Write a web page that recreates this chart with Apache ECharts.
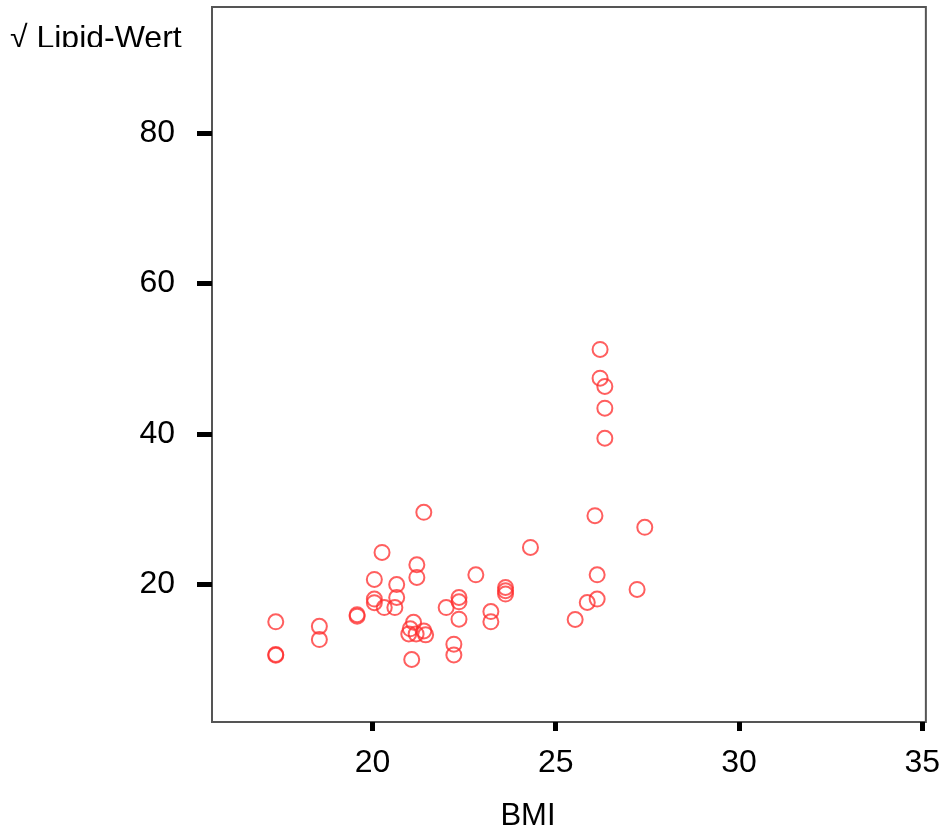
<!DOCTYPE html>
<html>
<head>
<meta charset="utf-8">
<script src="https://cdn.jsdelivr.net/npm/echarts@6/dist/echarts.min.js"></script>
<style>html,body{margin:0;padding:0;background:#fff}#c{width:943px;height:831px}</style>
</head>
<body>
<div id="c"></div>
<script>
// BMI values (x)
const bmi = [
  17.36, 17.36, 17.36, 18.55, 18.55, 19.58, 19.58, 20.05, 20.05, 20.05,
  20.26, 20.32, 20.61, 20.66, 20.66, 21.21, 21.21, 21.40, 21.12, 21.03,
  20.99, 21.19, 21.40, 21.45, 21.07, 22.01, 22.22, 22.22, 22.36, 22.36,
  22.36, 22.82, 23.23, 23.23, 23.63, 23.63, 23.63, 24.31, 25.53, 25.86,
  26.13, 26.13, 26.07, 27.43, 27.22, 26.21, 26.21, 26.34, 26.34, 26.34
];
// sqrt lipid values (y)
const lipid = [
  15.05, 10.72, 10.60, 14.45, 12.70, 16.00, 15.80, 18.07, 17.60, 20.68,
  24.27, 16.95, 16.95, 20.00, 18.28, 22.63, 20.95, 29.59, 15.00, 14.12,
  13.45, 13.45, 13.85, 13.32, 10.05, 16.95, 12.09, 10.66, 18.28, 17.71,
  15.41, 21.30, 16.42, 15.05, 19.61, 19.18, 18.74, 24.93, 15.36, 17.62,
  18.07, 21.30, 29.15, 27.60, 19.35, 51.23, 47.41, 46.31, 43.42, 39.43
];
const xTicks = [20, 25, 30, 35];
const yTicks = [20, 40, 60, 80];
const xName = 'BMI';
const yName = '√ Lipid-Wert';

const points = bmi.map((v, i) => [v, lipid[i]]);
const font = 'Liberation Sans, Arial, sans-serif';

const chart = echarts.init(document.getElementById('c'));
chart.setOption({
  animation: false,
  backgroundColor: '#fff',
  grid: { left: 212, right: 14, top: 7, bottom: 109, show: true, borderColor: '#555', borderWidth: 2, backgroundColor: 'transparent' },
  xAxis: {
    type: 'value', min: 15.62, max: 35.1,
    splitLine: { show: false },
    axisLine: { show: false },
    axisTick: { show: true, customValues: xTicks, length: 9, lineStyle: { color: '#000', width: 5 } },
    axisLabel: { customValues: xTicks, margin: 25, color: '#000', fontSize: 32, fontFamily: font }
  },
  yAxis: {
    type: 'value', min: 1.75, max: 96.7,
    splitLine: { show: false },
    axisLine: { show: false },
    axisTick: { show: true, customValues: yTicks, length: 15, lineStyle: { color: '#000', width: 5 } },
    axisLabel: { customValues: yTicks, margin: 37, color: '#000', fontSize: 32, fontFamily: font }
  },
  graphic: [
    { type: 'text', left: 10, top: 23, z: 10, style: { text: yName, font: '32px ' + font, fill: '#000' } },
    { type: 'rect', shape: { x: 0, y: 47, width: 205, height: 20 }, z: 11, style: { fill: '#fff' } },
    { type: 'text', x: 528, y: 816, z: 10, style: { text: xName, font: '31px ' + font, fill: '#000', align: 'center', verticalAlign: 'middle' } }
  ],
  series: [{
    type: 'scatter',
    data: points,
    symbol: 'circle',
    symbolSize: 15,
    itemStyle: { color: 'transparent', borderColor: 'rgba(255,45,45,0.95)', borderWidth: 2 }
  }]
});
</script>
</body>
</html>
